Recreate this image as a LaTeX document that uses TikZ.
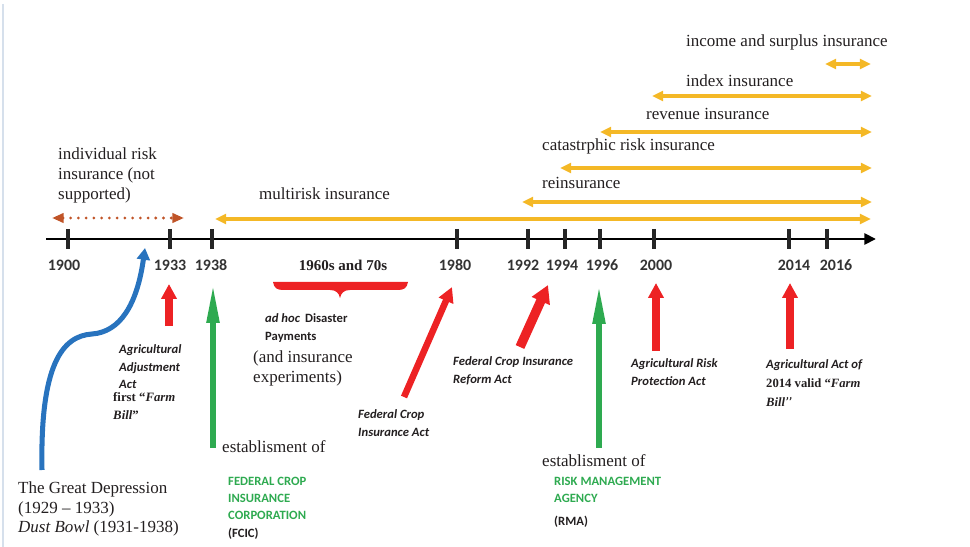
\documentclass[tikz,border=0pt]{standalone}
\usepackage{fontspec}
\setmainfont{Liberation Serif}
\newfontfamily\calfont{Carlito}
\usetikzlibrary{arrows.meta,positioning}

\definecolor{tlyellow}{RGB}{244,184,38}
\definecolor{tlred}{RGB}{237,34,36}
\definecolor{tlgreen}{RGB}{46,170,80}
\definecolor{tlblue}{RGB}{40,115,190}
\definecolor{tlbrown}{RGB}{192,84,40}
\definecolor{tltext}{RGB}{35,31,32}
\definecolor{tlborder}{RGB}{214,224,236}

\begin{document}
\begin{tikzpicture}[x=0.3mm, y=-0.3mm,
    >={Triangle[width=8.5pt,length=9.5pt]},
    txt/.style={inner sep=0pt, align=left, text=tltext, font=\fontsize{14.5}{16.6}\selectfont},
    act/.style={inner sep=0pt, align=left, text=tltext, font=\calfont\bfseries\itshape\fontsize{10.8}{14.9}\selectfont},
    note/.style={inner sep=0pt, align=left, text=tltext, font=\calfont\bfseries\fontsize{10.8}{14.9}\selectfont},
    org/.style={note, text=tlgreen},
    yearlbl/.style={inner sep=0pt, text=black!80, font=\calfont\bfseries\fontsize{13.6}{16}\selectfont},
    yeartick/.style={line width=3.4pt, black!85},
    yspan/.style={<->, draw=tlyellow, line width=2.6pt},
    redup/.style={-{Triangle[width=12.8pt,length=12.8pt]}, draw=tlred, line width=6.4pt},
    greenup/.style={-{Triangle[width=10pt,length=34pt]}, draw=tlgreen, line width=5pt}]

\useasboundingbox (0,0) rectangle (970,547);
\draw[tlborder, line width=1pt] (3,4) -- (3,547);

% Zaman ekseni
\coordinate (axL) at (46,239);
\coordinate (axR) at (876,239);
\draw[line width=2.5pt, -{Triangle[width=9.4pt,length=10pt]}] (axL) -- (axR);

\foreach \yr/\tx/\lx in {1900/68/64, 1933/170/170, 1938/212/211, 1980/457/455,
    1992/528/523, 1994/565/562, 1996/600/602, 2000/654/656, 2014/789/794, 2016/827/836} {
  \coordinate (t\yr) at (\tx,239);
  \draw[yeartick] (\tx,229) -- (\tx,249);
  \node[yearlbl] (y\yr) at (\lx,265) {\yr};
}

% Sigorta turleri (sari oklar)
\foreach \nm/\xa/\xb/\yy in {multi/215/871/219, rein/522/872/202, cat/560/872/168,
    rev/600/872/132, idx/652/872/96, inc/825/871/64} {
  \coordinate (\nm-l) at (\xa,\yy);
  \coordinate (\nm-r) at (\xb,\yy);
  \draw[yspan] (\nm-l) -- (\nm-r);
}

\node[txt, anchor=west] (income)  at (686,42)  {income and surplus insurance};
\node[txt, anchor=west] (index)   at (686,81)  {index insurance};
\node[txt, anchor=west] (revenue) at (646,114) {revenue insurance};
\node[txt, anchor=west] (catas)   at (542,146) {catastrphic risk insurance};
\node[txt, anchor=west] (reins)   at (542,183) {reinsurance};
\node[txt, anchor=west] (multir)  at (259,194) {multirisk insurance};
\node[txt, anchor=west, font=\fontsize{14.5}{17}\selectfont] (indiv) at (58,175) {individual risk\\insurance (not\\supported)};

% Bireysel sigorta (noktali)
\coordinate (ind-l) at (52,218);
\coordinate (ind-r) at (184,218);
\draw[tlbrown, line width=2.6pt, line cap=round, dash pattern=on 0pt off 6.6pt,
    {Triangle[width=8pt,length=10pt]}-{Triangle[width=8pt,length=10pt]}] (ind-l) -- (ind-r);

% Buyuk Buhran (mavi egri)
\coordinate (dep) at (42,470);
\coordinate (depTip) at (145,248);
\draw[tlblue, line width=4.3pt, -{Triangle[width=11pt,length=10pt]}]
  (dep) .. controls (40,365) and (62,336) .. (92,334) .. controls (120,332) and (137,305) .. (depTip);

% Yasalar (kirmizi oklar)
\coordinate (r1933a) at (169,326);  \coordinate (r1933b) at (169,284);
\coordinate (r1980a) at (404,397);  \coordinate (r1980b) at (452,287);
\coordinate (r1992a) at (520,347);  \coordinate (r1992b) at (548,285);
\coordinate (r2000a) at (656,351);  \coordinate (r2000b) at (656,283);
\coordinate (r2014a) at (790,349);  \coordinate (r2014b) at (790,283);
\draw[redup] (r1933a) -- (r1933b);
\draw[redup, line width=5.6pt] (r1980a) -- (r1980b);
\draw[redup, line width=8pt, -{Triangle[width=16pt,length=15pt]}] (r1992a) -- (r1992b);
\draw[redup] (r2000a) -- (r2000b);
\draw[redup] (r2014a) -- (r2014b);

% Kurumlar (yesil oklar)
\coordinate (g1938a) at (213,448);  \coordinate (g1938b) at (213,283);
\coordinate (g1996a) at (599,448);  \coordinate (g1996b) at (599,284);
\draw[greenup] (g1938a) -- (g1938b);
\draw[greenup] (g1996a) -- (g1996b);

% 1960-70 kusak parantezi
\fill[tlred] (273,282) -- (408,282) .. controls (407,288) and (404,290) .. (398,290)
  -- (350,290) .. controls (344,290) and (341,293) .. (340,298)
  .. controls (339,293) and (336,290) .. (330,290) -- (283,290)
  .. controls (277,290) and (274,288) .. (273,282) -- cycle;
\node[txt, font=\bfseries\fontsize{12.8}{15}\selectfont] (sixties) at (343,265) {1960s and 70s};

% Aciklamalar
\node[note, anchor=west] (adhoc) at (265,328) {\textit{ad hoc}\, Disaster\\Payments};
\node[txt, anchor=west, font=\fontsize{14.5}{17}\selectfont] (exper) at (253,368) {(and insurance\\experiments)};
\node[act, anchor=west] (aaa) at (119,367) {Agricultural\\Adjustment\\Act};
\node[txt, anchor=west, font=\bfseries\fontsize{10.9}{16}\selectfont] (fb1933) at (113,406) {first “\textit{Farm}\\\textit{Bill}”};
\node[act, anchor=west] (fcia) at (358,423) {Federal Crop\\Insurance Act};
\node[act, anchor=west] (fcira) at (453,371) {Federal Crop Insurance\\Reform Act};
\node[act, anchor=west] (arpa) at (631,372) {Agricultural Risk\\Protection Act};
\node[act, anchor=west, font=\calfont\bfseries\itshape\fontsize{10.8}{16.3}\selectfont] (aa2014) at (766,383)
  {Agricultural Act of\\{\rmfamily\upshape 2014 valid “\textit{Farm}}\\{\rmfamily\itshape Bill}’’};

\node[txt, anchor=west] (est1) at (222,447) {establisment of};
\node[org, anchor=west] (fcic) at (228,508) {FEDERAL CROP\\INSURANCE\\CORPORATION\\{\color{tltext}(FCIC)}};
\node[txt, anchor=west] (est2) at (542,461) {establisment of};
\node[org, anchor=west] (rma) at (554,490) {RISK MANAGEMENT\\AGENCY};
\node[note, anchor=west] (rmaab) at (554,522) {(RMA)};

\node[txt, anchor=west] (depr) at (18,509) {The Great Depression\\(1929 – 1933)\\\textit{Dust Bowl} (1931-1938)};

\end{tikzpicture}
\end{document}
